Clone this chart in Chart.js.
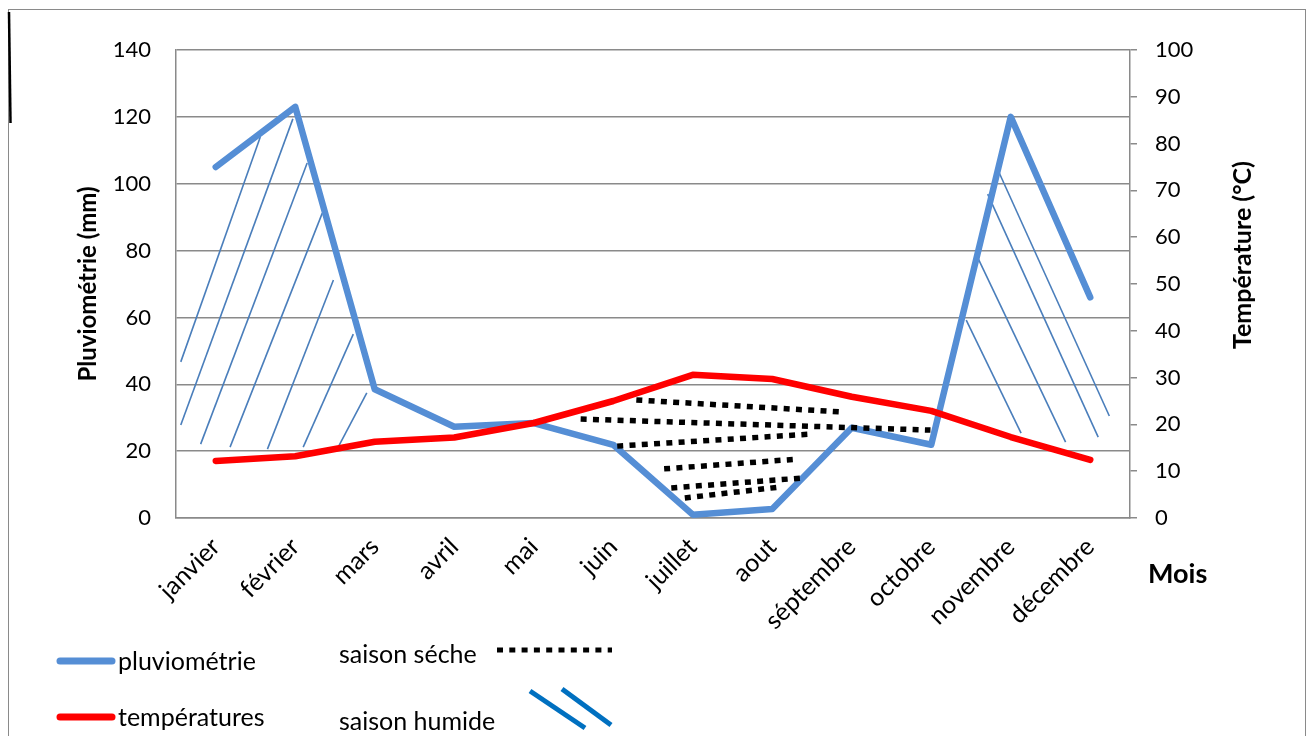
<!DOCTYPE html>
<html>
<head>
<meta charset="utf-8">
<script src="https://cdn.jsdelivr.net/npm/chart.js@4.4.0/dist/chart.umd.min.js"></script>
<style>
  body { margin: 0; background: #fff; }
  #boite { width: 1313px; height: 736px; position: relative; }
</style>
</head>
<body>
<div id="boite"><canvas id="graphique"></canvas></div>
<script>

const mois = ['janvier', 'février', 'mars', 'avril', 'mai', 'juin', 'juillet', 'aout', 'séptembre', 'octobre', 'novembre', 'décembre']

// pluviométrie en mm (axe de gauche)
const pluviometrie = [105, 123, 38.5, 27.3, 28.4, 21.9, 1, 2.7, 27, 21.9, 120, 66]

// températures en °C (axe de droite)
const temperatures = [12.2, 13.2, 16.3, 17.2, 20.3, 25, 30.6, 29.7, 25.9, 22.9, 17.3, 12.4]

// hachures de la saison humide : [mois début, mm début, mois fin, mm fin]
const hachures = [
  [-0.44, 46.7, 0.56, 114.0],
  [-0.44, 27.8, 0.97, 119.4],
  [-0.19, 22.1, 1.15, 106.2],
  [0.18, 21.2, 1.34, 91.2],
  [0.65, 20.6, 1.48, 71.2],
  [1.10, 21.2, 1.73, 55.0],
  [1.54, 21.2, 1.90, 37.4],
  [9.85, 103.5, 11.24, 30.5],
  [9.71, 96.9, 11.10, 24.2],
  [9.58, 78.1, 10.69, 22.7],
  [9.44, 59.2, 10.13, 25.4]
]

// pointillés de la saison sèche : [mois début, mm début, mois fin, mm fin]
const pointilles = [
  [5.29, 35.3, 7.89, 31.7],
  [4.59, 29.6, 8.99, 26.3],
  [5.05, 21.5, 7.49, 25.1],
  [5.64, 14.7, 7.31, 17.6],
  [5.73, 9.0, 7.40, 12.0],
  [5.90, 6.0, 7.11, 9.3]
]

// --------------------------------------------------------------------------

const gris = '#8a8a8a'
const police = 'Lato'

function trait(ctx, x1, y1, x2, y2) {
  ctx.beginPath()
  ctx.moveTo(x1, y1)
  ctx.lineTo(x2, y2)
  ctx.stroke()
}

const decor = {
  id: 'decor',
  beforeDatasetsDraw(chart) {
    const { ctx, chartArea, scales: { x, y } } = chart
    ctx.save()
    ctx.beginPath()
    ctx.rect(chartArea.left, chartArea.top, chartArea.width, chartArea.height)
    ctx.clip()
    ctx.strokeStyle = '#4a7ebb'
    ctx.lineWidth = 1.6
    hachures.forEach(h => {
      trait(ctx, x.getPixelForValue(h[0]), y.getPixelForValue(h[1]), x.getPixelForValue(h[2]), y.getPixelForValue(h[3]))
    })
    ctx.restore()
  },
  afterDatasetsDraw(chart) {
    const { ctx, scales: { x, y } } = chart
    ctx.save()
    ctx.strokeStyle = '#000'
    ctx.lineWidth = 5.5
    ctx.setLineDash([6, 6.3])
    pointilles.forEach(p => {
      trait(ctx, x.getPixelForValue(p[0]), y.getPixelForValue(p[1]), x.getPixelForValue(p[2]), y.getPixelForValue(p[3]))
    })
    ctx.restore()
  },
  afterDraw(chart) {
    const ctx = chart.ctx
    ctx.save()

    // cadre
    ctx.strokeStyle = gris
    ctx.lineWidth = 1
    ctx.strokeRect(8.5, 9.5, 1297, 800)
    ctx.strokeStyle = '#000'
    ctx.lineWidth = 2.5
    trait(ctx, 9, 12, 10.5, 123)

    // titre axe droit
    ctx.fillStyle = '#000'
    ctx.font = 'bold 25px ' + police
    ctx.textAlign = 'center'
    ctx.textBaseline = 'middle'
    ctx.save()
    ctx.translate(1243, 255)
    ctx.rotate(-Math.PI / 2)
    ctx.fillText('Température (°C)', 0, 0)
    ctx.restore()

    // Mois
    ctx.font = 'bold 27px ' + police
    ctx.textAlign = 'left'
    ctx.fillText('Mois', 1148, 574)

    // légende
    ctx.lineCap = 'round'
    ctx.lineWidth = 7
    ctx.strokeStyle = '#558ed5'
    trait(ctx, 60, 661, 112, 661)
    ctx.strokeStyle = '#ff0000'
    trait(ctx, 60, 717, 112, 717)

    ctx.font = '25px ' + police
    ctx.fillText('pluviométrie', 118, 662)
    ctx.fillText('températures', 118, 718)
    ctx.fillText('saison séche', 339, 655)
    ctx.fillText('saison humide', 339, 722)

    ctx.lineCap = 'butt'
    ctx.strokeStyle = '#000'
    ctx.lineWidth = 5
    ctx.setLineDash([6, 6.3])
    trait(ctx, 497, 650, 612, 650)
    ctx.setLineDash([])

    ctx.strokeStyle = '#0070c0'
    ctx.lineWidth = 5
    trait(ctx, 530, 691, 585, 728)
    trait(ctx, 562, 689, 611, 725)

    ctx.restore()
  }
}

const data = {
  labels: mois,
  datasets: [
    {
      label: 'températures',
      data: temperatures,
      yAxisID: 'y1',
      borderColor: '#ff0000',
      borderWidth: 6.5,
      pointRadius: 0,
      borderCapStyle: 'round',
      borderJoinStyle: 'round',
      order: 0
    },
    {
      label: 'pluviométrie',
      data: pluviometrie,
      yAxisID: 'y',
      borderColor: '#558ed5',
      borderWidth: 6.5,
      pointRadius: 0,
      borderCapStyle: 'round',
      borderJoinStyle: 'round',
      order: 1
    }
  ]
}

const config = {
  type: 'line',
  data,
  plugins: [decor],
  options: {
    responsive: true,
    maintainAspectRatio: false,
    animation: false,
    layout: { padding: { left: 0, right: 0, top: 50, bottom: 0 } },
    plugins: {
      legend: false,
      tooltip: { enabled: false }
    },
    scales: {
      x: {
        offset: true,
        grid: { display: false, drawTicks: false, offset: true },
        border: { display: true, color: gris, width: 1.5 },
        ticks: {
          color: '#000',
          font: { family: police, size: 25 },
          minRotation: 45,
          maxRotation: 45,
          padding: 14
        },
        afterFit(scale) { scale.height = 218 }
      },
      y: {
        position: 'left',
        min: 0,
        max: 140,
        ticks: { stepSize: 20, color: '#000', font: { family: police, size: 22 }, padding: 25 },
        grid: { color: gris, lineWidth: 1.5, drawTicks: false },
        border: { color: gris, width: 1.5 },
        title: {
          display: true,
          text: 'Pluviométrie (mm)',
          color: '#000',
          font: { family: police, size: 24, weight: 'bold' },
          padding: { top: 74 }
        },
        afterFit(scale) { scale.width = 176 }
      },
      y1: {
        position: 'right',
        min: 0,
        max: 100,
        ticks: { stepSize: 10, color: '#000', font: { family: police, size: 22 }, padding: 18 },
        grid: { drawOnChartArea: false, color: gris, lineWidth: 1.5, tickLength: 7 },
        border: { color: gris, width: 1.5 },
        afterFit(scale) { scale.width = 183 }
      }
    }
  }
}

new Chart(document.getElementById('graphique'), config)
</script>
</body>
</html>
